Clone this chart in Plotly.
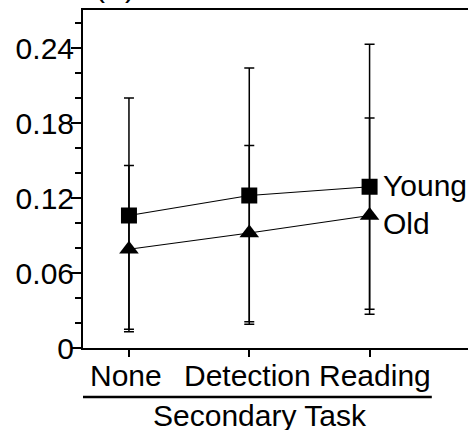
import plotly.graph_objects as go

categories = ["None", "Detection", "Reading"]
young_mean = [0.106, 0.122, 0.129]
young_upper = [0.200, 0.224, 0.243]
young_lower = [0.013, 0.019, 0.027]
old_mean = [0.079, 0.092, 0.106]
old_upper = [0.146, 0.162, 0.184]
old_lower = [0.015, 0.021, 0.031]
y_ticks = [0, 0.06, 0.12, 0.18, 0.24]
y_ticktext = ["0", "0.06", "0.12", "0.18", "0.24"]

xpos = list(range(len(categories)))
label_shift = [-3, -2, 5]
FONT = "Liberation Sans, Arial, sans-serif"

def err(mean, up, lo):
    return dict(type="data", symmetric=False,
                array=[u - m for u, m in zip(up, mean)],
                arrayminus=[m - l for m, l in zip(mean, lo)],
                color="black", thickness=1.5, width=5)

fig = go.Figure()
fig.add_trace(go.Scatter(x=xpos, y=old_mean, mode="lines+markers",
                         line=dict(color="black", width=1.2),
                         marker=dict(symbol="triangle-up", size=17, color="black"),
                         error_y=err(old_mean, old_upper, old_lower), name="Old"))
fig.add_trace(go.Scatter(x=xpos, y=young_mean, mode="lines+markers",
                         line=dict(color="black", width=1.2),
                         marker=dict(symbol="square", size=16, color="black"),
                         error_y=err(young_mean, young_upper, young_lower), name="Young"))

for xp, cat, sh in zip(xpos, categories, label_shift):
    fig.add_annotation(x=xp, y=-0.08, xref="x", yref="paper", text=cat, showarrow=False,
                       xanchor="center", yanchor="middle", xshift=sh,
                       font=dict(size=30, family=FONT, color="black"))

fig.add_annotation(x=xpos[-1], y=young_mean[-1], text="Young", showarrow=False,
                   xanchor="left", xshift=11, yshift=1, font=dict(size=30, family=FONT, color="black"))
fig.add_annotation(x=xpos[-1], y=old_mean[-1], text="Old", showarrow=False,
                   xanchor="left", xshift=11, yshift=-8, font=dict(size=30, family=FONT, color="black"))
fig.add_annotation(x=0.46, y=-0.201, xref="paper", yref="paper", text="Secondary Task",
                   showarrow=False, xanchor="center", yanchor="middle",
                   font=dict(size=30, family=FONT, color="black"))
fig.add_annotation(x=0.083, y=1.0, xref="paper", yref="paper", text="(A)",
                   showarrow=False, xanchor="center", yanchor="bottom", yshift=5,
                   font=dict(size=30, family=FONT, color="black"))
fig.add_shape(type="line", xref="paper", yref="paper", x0=0.0, x1=0.906, y0=-0.145, y1=-0.145,
              line=dict(color="black", width=2.5))

fig.update_layout(
    width=468, height=430,
    margin=dict(l=83, r=0, t=10, b=82, autoexpand=False),
    paper_bgcolor="white", plot_bgcolor="white",
    showlegend=False,
    font=dict(family=FONT, color="black"),
    xaxis=dict(range=[-0.382, 2.818], tickvals=xpos, showticklabels=False, automargin=False,
               showgrid=False, zeroline=False, showline=True, linecolor="black", linewidth=2,
               mirror=True, ticks="outside", ticklen=7, tickwidth=1.5, tickcolor="black"),
    yaxis=dict(range=[0, 0.2704], tickvals=y_ticks, ticktext=y_ticktext, automargin=False,
               showgrid=False, zeroline=False, showline=True, linecolor="black", linewidth=2,
               ticks="outside", ticklen=10, tickwidth=1.5, tickcolor="black",
               ticklabelstandoff=-9,
               minor=dict(dtick=0.02, tick0=0, ticks="outside", ticklen=6, tickwidth=1.5, tickcolor="black"),
               tickfont=dict(size=30, family=FONT, color="black")),
)

fig.write_html("out.html")
